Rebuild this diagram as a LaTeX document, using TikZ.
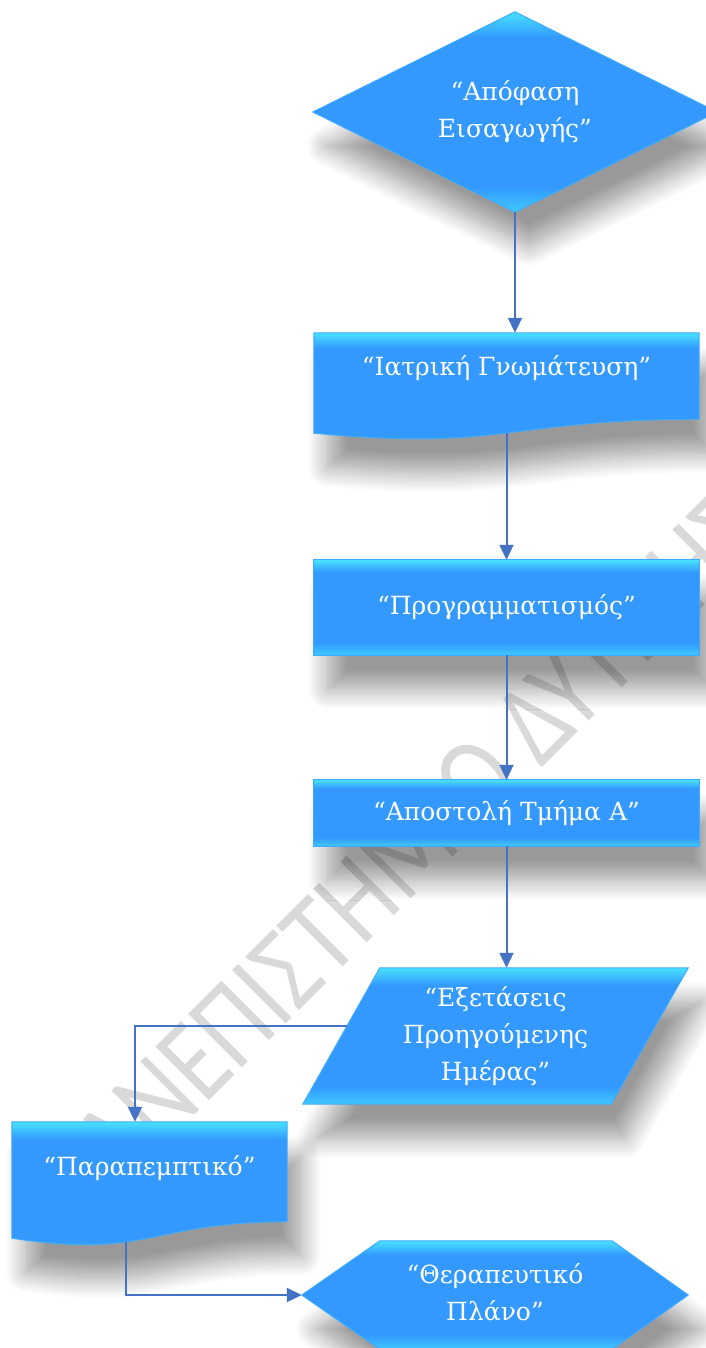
\documentclass[tikz,border=0pt]{standalone}
\usepackage{fontspec}
\setmainfont{DejaVu Serif}
\newfontfamily\markfont{Carlito}
\usetikzlibrary{arrows.meta,calc,shadows.blur}

\definecolor{bevmid}{RGB}{51,153,255}
\definecolor{bevtop}{RGB}{72,226,255}
\definecolor{bevbot}{RGB}{64,200,255}
\definecolor{edge}{RGB}{60,170,255}
\definecolor{arrblue}{RGB}{68,114,196}
\definecolor{markgray}{RGB}{217,217,217}

\pgfdeclareverticalshading[bevtop,bevmid,bevbot]{bevel}{100bp}{color(0bp)=(bevbot); color(25bp)=(bevbot); color(31.5bp)=(bevmid); color(68.5bp)=(bevmid); color(75bp)=(bevtop); color(100bp)=(bevtop)}

\pgfdeclarelayer{mark}
\pgfdeclarelayer{back}
\pgfsetlayers{mark,back,main}

\tikzset{
  txt/.style={text=white, align=center, inner sep=0pt, font=\fontsize{25}{37}\selectfont},
  blok/.style={shading=bevel, draw=edge, line width=1pt,
    blur shadow={shadow xshift=14pt, shadow yshift=-34pt, shadow blur radius=20pt, shadow opacity=40, shadow blur steps=16}},
  arr/.style={draw=arrblue, line width=2pt, -{Triangle[length=15pt,width=14pt]}}
}

\begin{document}
\begin{tikzpicture}[x=1pt, y=-1pt]
	\useasboundingbox (0,0) rectangle (706,1348);
	
	% Texto dos blocos
	\node[txt, minimum width=404pt, minimum height=200pt] (apof) at (515,112) {“Απόφαση\\Εισαγωγής”};
	\node[txt, minimum width=385pt, minimum height=70pt] (gnom) at (506.5,368) {“Ιατρική Γνωμάτευση”};
	\node[txt, minimum width=385pt, minimum height=95pt] (prog) at (506.5,607.5) {“Προγραμματισμός”};
	\node[txt, minimum width=385pt, minimum height=66pt] (akos) at (506.5,813) {“Αποστολή Τμήμα Α”};
	\node[txt, minimum width=385pt, minimum height=136pt] (exet) at (495.5,1036) {“Εξετάσεις\\Προηγούμενης\\Ημέρας”};
	\node[txt, minimum width=275pt, minimum height=92pt] (para) at (149.5,1168) {“Παραπεμπτικό”};
	\node[txt, minimum width=386pt, minimum height=108pt] (therap) at (495,1295) {\raisebox{4pt}{\begin{tabular}{@{}c@{}}“Θεραπευτικό\\Πλάνο”\end{tabular}}};
	
	% Formas (atras do texto)
	\begin{pgfonlayer}{back}
		\path[blok] (apof.north) -- (apof.east) -- (apof.south) -- (apof.west) -- cycle;
		\path[blok] (gnom.north west) -- (gnom.north east) -- ($(gnom.south east)+(0,16)$)
			.. controls ($(gnom.south)+(0,16)$) and ($(gnom.south)+(0,48)$) .. ($(gnom.south west)+(0,30)$)
			coordinate[pos=0.5] (gnomwave) -- cycle;
		\path[blok] (prog.north west) rectangle (prog.south east);
		\path[blok] (akos.north west) rectangle (akos.south east);
		\path[blok] ($(exet.north west)+(77,0)$) coordinate (exettl) -- (exet.north east)
			-- ($(exet.south east)+(-77,0)$) -- (exet.south west) -- cycle;
		\path[blok] (para.north west) -- (para.north east) -- ($(para.south east)+(0,7.5)$)
			.. controls ($(para.south)+(0,7.5)$) and ($(para.south)+(0,45)$) .. ($(para.south west)+(0,24)$)
			coordinate[pos=0.61] (parawave) -- cycle;
		\path[blok] (therap.west) -- ($(therap.north west)+(78,0)$) -- ($(therap.north east)+(-76,0)$)
			-- (therap.east) -- ($(therap.south east)+(-76,0)$) -- ($(therap.south west)+(78,0)$) -- cycle;
	\end{pgfonlayer}
	
	% Marca d'agua
	\begin{pgfonlayer}{mark}
		\node[markgray, font=\markfont\fontsize{118}{118}\selectfont, rotate=45, xscale=0.82, anchor=base west, inner sep=0pt] (uniwa) at (78,1232) {ΠΑΝΕΠΙΣΤΗΜΙΟ ΔΥΤΙΚΗΣ};
	\end{pgfonlayer}
	
	% Setas
	\coordinate (exetleft) at ($(exettl)!0.426!(exet.south west)$);
	\draw[arr] (apof.south) -- (apof.south |- gnom.north);
	\draw[arr] (gnomwave) -- (gnomwave |- prog.north);
	\draw[arr] (prog.south) -- (akos.north);
	\draw[arr] (akos.south) -- (akos.south |- exet.north);
	\draw[arr] (exetleft) -| ([xshift=-14.5pt]para.north);
	\draw[arr] (parawave) |- (therap.west);
\end{tikzpicture}
\end{document}
